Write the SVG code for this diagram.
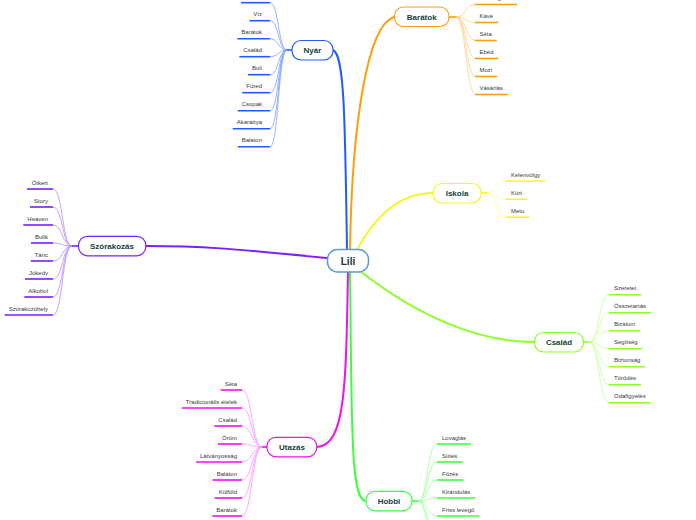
<svg xmlns="http://www.w3.org/2000/svg" width="696" height="520" viewBox="0 0 696 520">
<style>
.t{font-family:"Liberation Sans",Arial,sans-serif;font-size:6px;fill:#3a3a3a}
.e{text-anchor:end}
.n{font-family:"Liberation Sans",Arial,sans-serif;font-size:8px;font-weight:bold;fill:#163f3a;text-anchor:middle}
.box{fill:#fff;stroke-width:1.2}
.c{fill:none;stroke-width:0.8}
.m{fill:none;stroke-width:2;stroke-linecap:round}
.u{fill:none;stroke-width:1.6}
.blue{stroke:#1f5cff}.blueL{stroke:#7ea0ff}
.org{stroke:#ff9d0a}.orgL{stroke:#ffd08a}
.yel{stroke:#f5f52a}.yelL{stroke:#ffff99}
.pur{stroke:#7a1fff}.purL{stroke:#b48cff}
.grn{stroke:#8cff2a}.grnL{stroke:#c8ff99}
.mag{stroke:#f010f0}.magL{stroke:#ff95ff}
.hgr{stroke:#3dff3d}.hgrL{stroke:#9cff9c}
</style>
<rect width="696" height="520" fill="#fff"/>
<g id="connectors">
  <path class="m blue" d="M347,250 C345,110 344,55 333,50"/>
  <path class="m org" d="M350,250 C352,120 368,25 394,17"/>
  <path class="m yel" d="M357,250 C372,222 395,193 433,193"/>
  <path class="m pur" d="M327,258 C260,252 220,246 146,246"/>
  <path class="m grn" d="M360,271 C420,318 480,342 534,342"/>
  <path class="m mag" d="M348,272 C346,390 345,445 317,447"/>
  <path class="m hgr" d="M350,272 C352,420 350,501 366,501"/>
  <!-- Nyár -->
  <path class="u blue" d="M292,50 H286"/>
  <g class="c blueL">
    <path d="M287,50 C278,50 279,2.7 270,2.7"/>
    <path d="M287,50 C278,50 279,20.7 270,20.7"/>
    <path d="M287,50 C278,50 279,38.7 270,38.7"/>
    <path d="M287,50 C278,50 279,56.7 270,56.7"/>
    <path d="M287,50 C278,50 279,74.7 270,74.7"/>
    <path d="M287,50 C278,50 279,92.7 270,92.7"/>
    <path d="M287,50 C278,50 279,110.7 270,110.7"/>
    <path d="M287,50 C278,50 279,128.7 270,128.7"/>
    <path d="M287,50 C278,50 279,146.7 270,146.7"/>
  </g>
  <!-- Barátok -->
  <path class="u org" d="M449,17 H457"/>
  <g class="c orgL">
    <path d="M456,17 C466,17 466,4.5 475.5,4.5"/>
    <path d="M456,17 C466,17 466,22.5 475.5,22.5"/>
    <path d="M456,17 C466,17 466,40.5 475.5,40.5"/>
    <path d="M456,17 C466,17 466,58.5 475.5,58.5"/>
    <path d="M456,17 C466,17 466,76.5 475.5,76.5"/>
    <path d="M456,17 C466,17 466,94.5 475.5,94.5"/>
  </g>
  <!-- Iskola -->
  <path class="u yel" d="M481,193 H488"/>
  <g class="c yelL">
    <path d="M487,193 C497,193 496,181 506,181"/>
    <path d="M487,193 C497,193 496,199.2 506,199.2"/>
    <path d="M487,193 C497,193 496,217.2 506,217.2"/>
  </g>
  <!-- Szórakozás -->
  <path class="u pur" d="M78,246 H71"/>
  <g class="c purL">
    <path d="M72,246 C62,246 63,189 53,189"/>
    <path d="M72,246 C62,246 63,207 53,207"/>
    <path d="M72,246 C62,246 63,225 53,225"/>
    <path d="M72,246 C62,246 63,243 53,243"/>
    <path d="M72,246 C62,246 63,261 53,261"/>
    <path d="M72,246 C62,246 63,279 53,279"/>
    <path d="M72,246 C62,246 63,297 53,297"/>
    <path d="M72,246 C62,246 63,315 53,315"/>
  </g>
  <!-- Család -->
  <path class="u grn" d="M583.7,342 H590"/>
  <g class="c grnL">
    <path d="M589,342 C599,342 599,294.7 609,294.7"/>
    <path d="M589,342 C599,342 599,312.7 609,312.7"/>
    <path d="M589,342 C599,342 599,330.7 609,330.7"/>
    <path d="M589,342 C599,342 599,348.7 609,348.7"/>
    <path d="M589,342 C599,342 599,366.7 609,366.7"/>
    <path d="M589,342 C599,342 599,384.7 609,384.7"/>
    <path d="M589,342 C599,342 599,402.7 609,402.7"/>
  </g>
  <!-- Utazás -->
  <path class="u mag" d="M267,447 H261"/>
  <g class="c magL">
    <path d="M262,447 C252,447 252,390 242,390"/>
    <path d="M262,447 C252,447 252,408 242,408"/>
    <path d="M262,447 C252,447 252,426 242,426"/>
    <path d="M262,447 C252,447 252,444 242,444"/>
    <path d="M262,447 C252,447 252,462 242,462"/>
    <path d="M262,447 C252,447 252,480 242,480"/>
    <path d="M262,447 C252,447 252,498 242,498"/>
    <path d="M262,447 C252,447 252,516 242,516"/>
  </g>
  <!-- Hobbi -->
  <path class="u hgr" d="M412,501 H419"/>
  <g class="c hgrL">
    <path d="M418,501 C428,501 427,444 437,444"/>
    <path d="M418,501 C428,501 427,462 437,462"/>
    <path d="M418,501 C428,501 427,480 437,480"/>
    <path d="M418,501 C428,501 427,498 437,498"/>
    <path d="M418,501 C428,501 427,516 437,516"/>
    <path d="M418,501 C428,501 427,534 437,534"/>
    <path d="M418,501 C428,501 427,552 437,552"/>
  </g>
</g>

<g id="lili">
  <rect class="box" x="327.5" y="249.5" width="41" height="22.5" rx="10" style="stroke:#5b9bd5;stroke-width:1.5"/>
  <text class="n" x="348" y="264.5" style="font-size:10px;fill:#1a2f3f">Lili</text>
</g>

<g id="nyar">
  <rect class="box blue" x="292" y="40.5" width="41" height="19.5" rx="9"/>
  <text class="n" x="312.5" y="53">Nyár</text>
</g>
<g id="nyar-children">
  <path class="u blue" d="M241,2.7 H270"/>
  <g id="nyar-viz"><text class="t e" x="262" y="16.2">Víz</text><path class="u blue" d="M249.5,20.7 H270"/></g>
  <g id="nyar-baratok"><text class="t e" x="262" y="34.2">Barátok</text><path class="u blue" d="M237.3,38.7 H270"/></g>
  <g id="nyar-csalad"><text class="t e" x="262" y="52.2">Család</text><path class="u blue" d="M239.3,56.7 H270"/></g>
  <g id="nyar-buli"><text class="t e" x="262" y="70.2">Buli</text><path class="u blue" d="M248,74.7 H270"/></g>
  <g id="nyar-fured"><text class="t e" x="262" y="88.2">Füred</text><path class="u blue" d="M242.3,92.7 H270"/></g>
  <g id="nyar-csopak"><text class="t e" x="262" y="106.2">Csopak</text><path class="u blue" d="M237.7,110.7 H270"/></g>
  <g id="nyar-akarattya"><text class="t e" x="262" y="124.2">Akarattya</text><path class="u blue" d="M232.7,128.7 H270"/></g>
  <g id="nyar-balaton"><text class="t e" x="262" y="142.2">Balaton</text><path class="u blue" d="M237.7,146.7 H270"/></g>
</g>

<g id="baratok">
  <rect class="box org" x="394.5" y="7" width="54.5" height="19.5" rx="9"/>
  <text class="n" x="421.7" y="19.8">Barátok</text>
</g>
<g id="baratok-children">
  <g id="bar-beszelgetes"><text class="t" x="479.5" y="0.2">Beszélgetés</text><path class="u org" d="M475,4.5 H517"/></g>
  <g id="bar-kave"><text class="t" x="479.5" y="18.2">Kávé</text><path class="u org" d="M475,22.5 H498.2"/></g>
  <g id="bar-seta"><text class="t" x="479.5" y="36.2">Séta</text><path class="u org" d="M475,40.5 H496.8"/></g>
  <g id="bar-ebed"><text class="t" x="479.5" y="54.2">Ebéd</text><path class="u org" d="M475,58.5 H498.5"/></g>
  <g id="bar-mozi"><text class="t" x="479.5" y="72.2">Mozi</text><path class="u org" d="M475,76.5 H497.2"/></g>
  <g id="bar-vasarlas"><text class="t" x="479.5" y="90.2">Vásárlás</text><path class="u org" d="M475,94.5 H507.8"/></g>
</g>

<g id="iskola">
  <rect class="box yel" x="433" y="183.5" width="48" height="19.5" rx="9"/>
  <text class="n" x="457" y="196">Iskola</text>
</g>
<g id="iskola-children">
  <g id="isk-kelenvolgy"><text class="t" x="511" y="177.2">Kelenvölgy</text><path class="u yel" d="M506,181 H545.3"/></g>
  <g id="isk-kurt"><text class="t" x="511" y="195.2">Kürt</text><path class="u yel" d="M506,199.2 H527"/></g>
  <g id="isk-metu"><text class="t" x="511" y="213.2">Metu</text><path class="u yel" d="M506,217.2 H529.3"/></g>
</g>

<g id="szorakozas">
  <rect class="box pur" x="78.5" y="236.3" width="67.3" height="19.5" rx="9"/>
  <text class="n" x="112" y="249">Szórakozás</text>
</g>
<g id="szorakozas-children">
  <g id="sz-otkert"><text class="t e" x="48" y="185.2">Ötkert</text><path class="u pur" d="M27,189 H53"/></g>
  <g id="sz-story"><text class="t e" x="48" y="203.2">Story</text><path class="u pur" d="M30,207 H53"/></g>
  <g id="sz-heaven"><text class="t e" x="48" y="221.2">Heaven</text><path class="u pur" d="M23.3,225 H53"/></g>
  <g id="sz-bulik"><text class="t e" x="48" y="239.2">Bulik</text><path class="u pur" d="M31,243 H53"/></g>
  <g id="sz-tanc"><text class="t e" x="48" y="257.2">Tánc</text><path class="u pur" d="M30.7,261 H53"/></g>
  <g id="sz-jokedv"><text class="t e" x="48" y="275.2">Jókedv</text><path class="u pur" d="M25,279 H53"/></g>
  <g id="sz-alkohol"><text class="t e" x="48" y="293.2">Alkohol</text><path class="u pur" d="M24.3,297 H53"/></g>
  <g id="sz-szorakozohely"><text class="t e" x="48" y="311.2">Szórakozóhely</text><path class="u pur" d="M4.7,315 H53"/></g>
</g>

<g id="csalad">
  <rect class="box grn" x="534.5" y="332.5" width="49" height="19.5" rx="9"/>
  <text class="n" x="559" y="345">Család</text>
</g>
<g id="csalad-children">
  <g id="cs-szeretet"><text class="t" x="614" y="289.7">Szeretet</text><path class="u grn" d="M609,294.7 H641.3"/></g>
  <g id="cs-osszetartas"><text class="t" x="614" y="307.7">Összetartás</text><path class="u grn" d="M609,312.7 H651"/></g>
  <g id="cs-bizalom"><text class="t" x="614" y="325.7">Bizalom</text><path class="u grn" d="M609,330.7 H640.3"/></g>
  <g id="cs-segitseg"><text class="t" x="614" y="343.7">Segítség</text><path class="u grn" d="M609,348.7 H642.3"/></g>
  <g id="cs-biztonsag"><text class="t" x="614" y="361.7">Biztonság</text><path class="u grn" d="M609,366.7 H645.3"/></g>
  <g id="cs-torodes"><text class="t" x="614" y="379.7">Törődés</text><path class="u grn" d="M609,384.7 H641"/></g>
  <g id="cs-odafigyeles"><text class="t" x="614" y="397.7">Odafigyelés</text><path class="u grn" d="M609,402.7 H650.7"/></g>
</g>

<g id="utazas">
  <rect class="box mag" x="267" y="437.3" width="49.7" height="19.5" rx="9"/>
  <text class="n" x="292" y="450">Utazás</text>
</g>
<g id="utazas-children">
  <g id="ut-seta"><text class="t e" x="237" y="386.2">Séta</text><path class="u mag" d="M220.7,390 H242"/></g>
  <g id="ut-tradicionalis"><text class="t e" x="237" y="404.2">Tradicionális ételek</text><path class="u mag" d="M181.7,408 H242"/></g>
  <g id="ut-csalad"><text class="t e" x="237" y="422.2">Család</text><path class="u mag" d="M214.3,426 H242"/></g>
  <g id="ut-orom"><text class="t e" x="237" y="440.2">Öröm</text><path class="u mag" d="M218,444 H242"/></g>
  <g id="ut-latvanyossag"><text class="t e" x="237" y="458.2">Látványosság</text><path class="u mag" d="M196,462 H242"/></g>
  <g id="ut-balaton"><text class="t e" x="237" y="476.2">Balaton</text><path class="u mag" d="M212.7,480 H242"/></g>
  <g id="ut-kulfold"><text class="t e" x="237" y="494.2">Külföld</text><path class="u mag" d="M214.7,498 H242"/></g>
  <g id="ut-baratok"><text class="t e" x="237" y="512.2">Barátok</text><path class="u mag" d="M212.3,516 H242"/></g>
</g>

<g id="hobbi">
  <rect class="box hgr" x="366" y="491.3" width="46" height="19.5" rx="9"/>
  <text class="n" x="389" y="504">Hobbi</text>
</g>
<g id="hobbi-children">
  <g id="ho-lovaglas"><text class="t" x="442" y="439.9">Lovaglás</text><path class="u hgr" d="M437,444 H471"/></g>
  <g id="ho-sutes"><text class="t" x="442" y="457.9">Sütés</text><path class="u hgr" d="M437,462 H462.3"/></g>
  <g id="ho-fozes"><text class="t" x="442" y="475.9">Főzés</text><path class="u hgr" d="M437,480 H463.3"/></g>
  <g id="ho-kirandulas"><text class="t" x="442" y="493.9">Kirándulás</text><path class="u hgr" d="M437,498 H475.3"/></g>
  <g id="ho-friss"><text class="t" x="442" y="511.9">Friss levegő</text><path class="u hgr" d="M437,516 H479.3"/></g>
</g>
</svg>
